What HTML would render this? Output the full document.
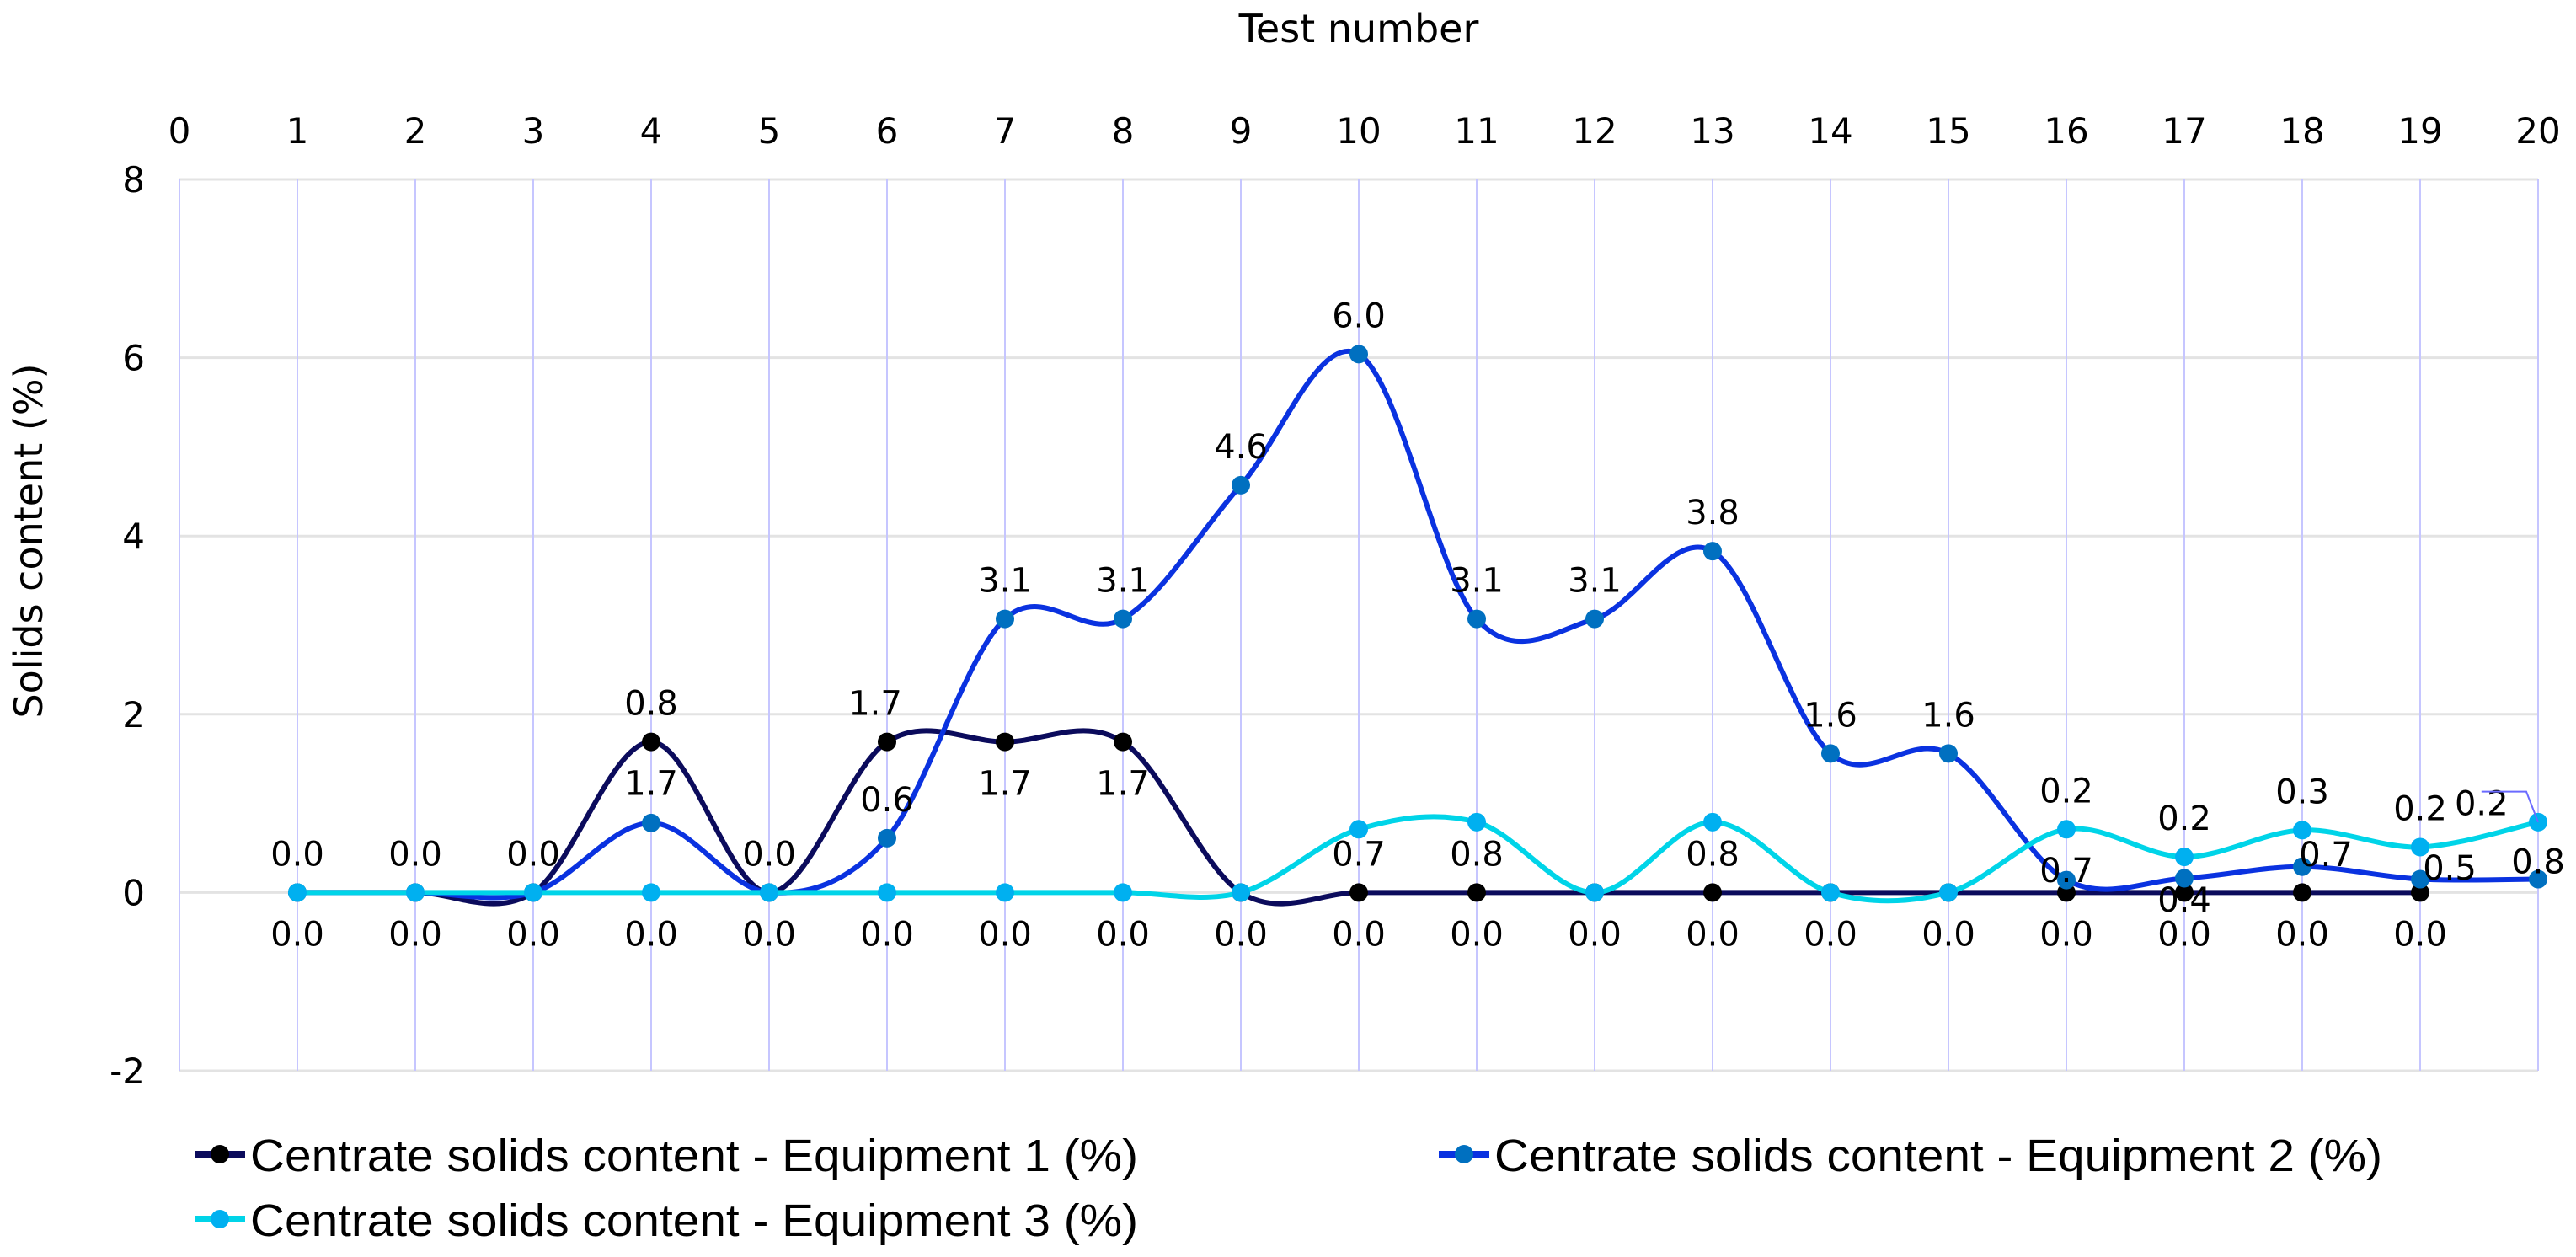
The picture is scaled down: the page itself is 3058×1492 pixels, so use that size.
<!DOCTYPE html>
<html><head><meta charset="utf-8"><style>
html,body{margin:0;padding:0;background:#fff;}
svg{display:block;}
text{font-family:"DejaVu Sans","Liberation Sans",sans-serif;fill:#000;}
.lg{font-family:"Liberation Sans",sans-serif;}
</style></head><body>
<svg id="chart" width="3058" height="1492" viewBox="0 0 3058 1492">
<g id="grid"></g>
<g id="axes"></g>
<g id="series"></g>
<g id="labels"></g>
<g id="legend"></g>
</svg>
<script>
const xTicks = [0,1,2,3,4,5,6,7,8,9,10,11,12,13,14,15,16,17,18,19,20];
const yTicks = [8,6,4,2,0,-2];
const tests1 = [1,2,3,4,5,6,7,8,9,10,11,12,13,14,15,16,17,18,19];
const equip1 = [0,0,0,1.69,0,1.69,1.69,1.69,0,0,0,0,0,0,0,0,0,0,0];
const tests2 = [1,2,3,4,5,6,7,8,9,10,11,12,13,14,15,16,17,18,19,20];
const equip2 = [0,0,0,0.78,0,0.61,3.07,3.07,4.57,6.04,3.07,3.07,3.83,1.56,1.56,0.14,0.16,0.29,0.15,0.15];
const equip3 = [0,0,0,0,0,0,0,0,0,0.71,0.79,0,0.79,0,0,0.71,0.40,0.70,0.51,0.79];
// printed data labels: [test, anchor value, text, side]
const labelTests = [1,1,2,2,3,3,4,4,4,5,5,6,6,6,7,7,7,8,8,8,9,9,10,10,10,11,11,11,12,12,13,13,13,14,14,15,15,16,16,16,17,17,17,18,18,18,19,19,19,20,20];
const labelVals  = [0,0,0,0,0,0,1.69,1.69,0,0,0,1.69,0.61,0,3.07,1.69,0,3.07,1.69,0,4.57,0,6.04,0,0,3.07,0,0,3.07,0,3.83,0,0,1.56,0,1.56,0,0.71,0.25,0,0.40,-0.08,0,0.70,0.43,0,0.51,0.28,0,1.0,0.35];
const labelText  = ["0.0","0.0","0.0","0.0","0.0","0.0","0.8","1.7","0.0","0.0","0.0","1.7","0.6","0.0","3.1","1.7","0.0","3.1","1.7","0.0","4.6","0.0","6.0","0.7","0.0","3.1","0.8","0.0","3.1","0.0","3.8","0.8","0.0","1.6","0.0","1.6","0.0","0.2","0.7","0.0","0.2","0.4","0.0","0.3","0.7","0.0","0.2","0.5","0.0","0.2","0.8"];
const labelSide  = ["a","b","a","b","a","b","a","b","b","a","b","a","a","b","a","b","b","a","b","b","a","b","a","a","b","a","a","b","a","b","a","a","b","a","b","a","b","a","c","b","a","c","b","a","c","b","a","c","b","c","c"];
const labelShift = [0,0,0,0,0,0,0,0,0,0,0,-0.1,0,0,0,0,0,0,0,0,0,0,0,0,0,0,0,0,0,0,0,0,0,0,0,0,0,0,0,0,0,0,0,0,0.2,0,0,0.25,0,-0.48,0];

const NS="http://www.w3.org/2000/svg";
const L=213,R=3013,T=213,B=1271;
const xs=v=>L+(v-0)*(R-L)/20;
const ys=v=>T+(8-v)*(B-T)/10;
function mk(tag,attrs,parent){const e=document.createElementNS(NS,tag);for(const k in attrs)e.setAttribute(k,attrs[k]);parent.appendChild(e);return e;}
const grid=document.getElementById('grid'),axes=document.getElementById('axes'),series=document.getElementById('series'),labels=document.getElementById('labels'),legend=document.getElementById('legend');

yTicks.forEach(v=>{
  const l=mk('line',{x1:L,x2:R,y1:ys(v),y2:ys(v),stroke:'#e3e3e3','stroke-width':3},grid);
  
  
  const t=mk('text',{x:172,y:ys(v)+15,'text-anchor':'end','font-size':42},axes);
  t.textContent=v;
  
  
});
xTicks.forEach(v=>{
  const l=mk('line',{x1:xs(v),x2:xs(v),y1:T,y2:B,stroke:'#c6c6ff','stroke-width':2},grid);
  
  
  const t=mk('text',{x:xs(v),y:170,'text-anchor':'middle','font-size':42},axes);
  t.textContent=v;
  
  
});
const xt=mk('text',{x:1613,y:50,'text-anchor':'middle','font-size':46},axes);
xt.textContent='Test number';


const yt=mk('text',{x:0,y:0,'text-anchor':'middle','font-size':46,transform:'translate(50,642) rotate(-90)'},axes);
yt.textContent='Solids content (%)';



function smooth(xv,yv){
  const p=xv.map((x,i)=>[xs(x),ys(yv[i])]);
  let d='M'+p[0][0]+','+p[0][1];
  for(let i=0;i<p.length-1;i++){
    const p0=p[i-1]||p[i],p1=p[i],p2=p[i+1],p3=p[i+2]||p[i+1];
    const c1=[p1[0]+(p2[0]-p0[0])/6,p1[1]+(p2[1]-p0[1])/6];
    const c2=[p2[0]-(p3[0]-p1[0])/6,p2[1]-(p3[1]-p1[1])/6];
    d+=' C'+c1+' '+c2+' '+p2;
  }
  return d;
}
function drawSeries(xv,yv,line,marker,name){
  const g=mk('g',{},series);
  
  
  const path=mk('path',{d:smooth(xv,yv),fill:'none',stroke:line,'stroke-width':6},g);
  
  
  xv.forEach((x,i)=>{
    const c=mk('circle',{cx:xs(x),cy:ys(yv[i]),r:11,fill:marker},g);
    
    
  });
}
drawSeries(tests1,equip1,'#0b0b5c','#000000','equipment-1-series');
drawSeries(tests2,equip2,'#0a32e0','#0070c0','equipment-2-series');
drawSeries(tests2,equip3,'#00d4e8','#00b0f0','equipment-3-series');

labelTests.forEach((x,i)=>{
  const s=labelSide[i];
  const dy=s==='a'?-46:(s==='b'?49:0);
  const t=mk('text',{x:xs(x+labelShift[i]),y:ys(labelVals[i])+dy+14,'text-anchor':'middle','font-size':40},labels);
  t.textContent=labelText[i];
  
  
});
const leader=mk('polyline',{points:(xs(19.52))+','+(ys(1.0)-14)+' '+(xs(19.9))+','+(ys(1.0)-14)+' '+xs(20)+','+ys(0.79),fill:'none',stroke:'#6a6aff','stroke-width':2},labels);



function legendEntry(x,y,line,marker,text,name){
  const g=mk('g',{},legend);
  
  
  mk('line',{x1:x,x2:x+60,y1:y,y2:y,stroke:line,'stroke-width':8},g);
  mk('circle',{cx:x+30,cy:y,r:11,fill:marker},g);
  const t=mk('text',{x:x+66,y:y+20,'font-size':54,textLength:1054,lengthAdjust:'spacingAndGlyphs',class:'lg'},g);
  t.textContent=text;
}
legendEntry(231,1370,'#0b0b5c','#000000','Centrate solids content - Equipment 1 (%)','legend-equipment-1');
legendEntry(1708,1370,'#0a32e0','#0070c0','Centrate solids content - Equipment 2 (%)','legend-equipment-2');
legendEntry(231,1447,'#00d4e8','#00b0f0','Centrate solids content - Equipment 3 (%)','legend-equipment-3');
</script>
</body></html>
